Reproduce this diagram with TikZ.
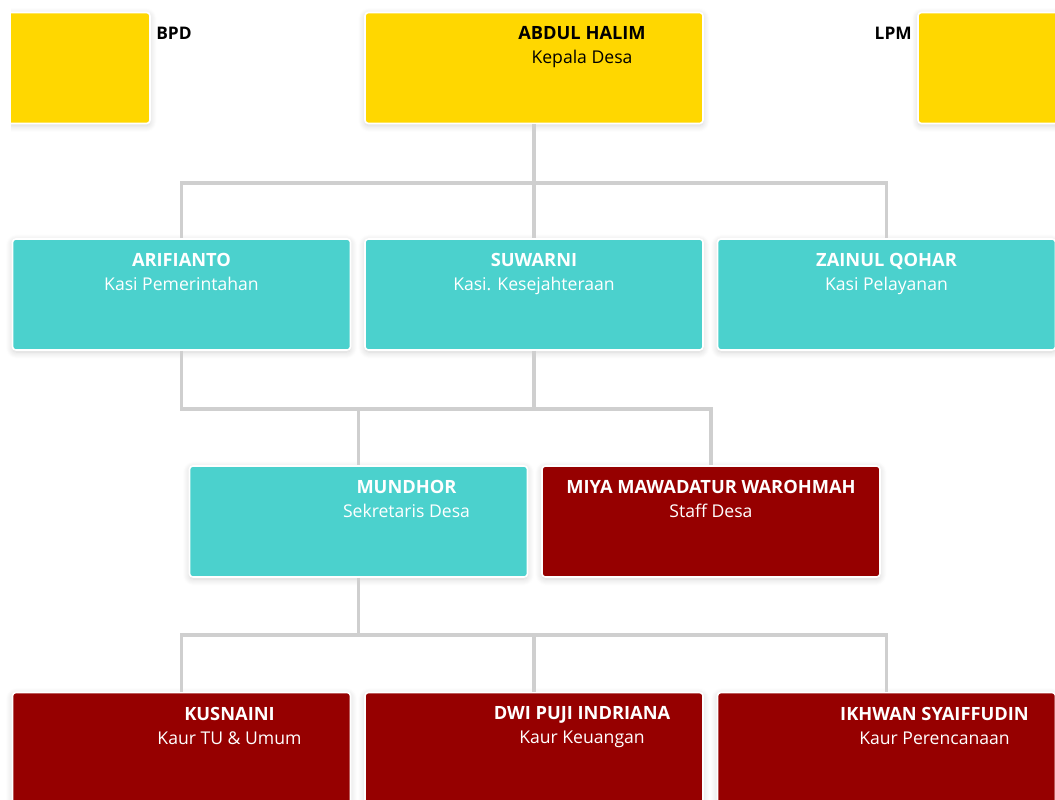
\documentclass[tikz,border=0pt]{standalone}
\usepackage{fontspec}
\setmainfont{Open Sans}
\usetikzlibrary{shadows.blur}
\definecolor{gold}{HTML}{FFD700}
\definecolor{teal}{HTML}{4BD1CD}
\definecolor{dred}{HTML}{960000}
\definecolor{conn}{HTML}{CFCFCF}
\newcommand{\nm}[1]{{\fontsize{13.7}{18}\selectfont\bfseries #1}}
\tikzset{
  box/.style={draw=white, line width=1.2pt, rounded corners=2.5pt, inner sep=0pt,
    blur shadow={shadow blur steps=8, shadow xshift=0pt, shadow yshift=-1.5pt, shadow opacity=18, shadow blur radius=5pt}},
  wide/.style={box, minimum width=253.5pt, minimum height=83.25pt},
  ybox/.style={wide, fill=gold},
  tbox/.style={wide, fill=teal},
  rbox/.style={wide, fill=dred},
  lbl/.style={font=\fontsize{13.2}{18}\selectfont, align=center, inner sep=0pt, anchor=north},
  side/.style={font=\fontsize{13}{15}\selectfont\bfseries, inner sep=0pt},
  link/.style={draw=conn, line width=2.3pt},
}
\begin{document}
\begin{tikzpicture}[x=0.75pt,y=-0.75pt]
\useasboundingbox (0,0) rectangle (1055,799);
% connectors
\coordinate (j1) at (534,183);
\coordinate (j2) at (358.5,409);
\coordinate (j3) at (358.5,635);
% row 1
\begin{scope}
\clip (11,0) rectangle (1055,799);
\node[ybox, minimum width=240pt] (bpd) at (-10,68) {};
\end{scope}
\node[ybox] (kades) at (534,68) {};
\node[ybox] (lpm) at (1087,68) {};
% row 2
\node[tbox] (kpem) at (181.5,294.5) {};
\node[tbox] (kkes) at (534,294.5) {};
\node[tbox] (kpel) at (886.5,294.5) {};
% row 3
\node[tbox] (sekdes) at (358.5,521.5) {};
\node[rbox] (staff) at (711,521.5) {};
% row 4
\node[rbox] (ktu) at (181.5,748) {};
\node[rbox] (kkeu) at (534,748) {};
\node[rbox] (kper) at (886.5,748) {};

% lines
\draw[link] (kades.south) -- (j1);
\draw[link] (kpem.north) |- (j1) -| (kpel.north);
\draw[link] (j1) -- (kkes.north);
\draw[link] (kpem.south) |- (j2);
\draw[link] (kkes.south) |- (j2) -| (staff.north);
\draw[link] (j2) -- (sekdes.north);
\draw[link] (sekdes.south) -- (j3);
\draw[link] (ktu.north) |- (j3) -| (kper.north);
\draw[link] (j3) -| (kkeu.north);

% side labels
\node[side, anchor=west] (tbpd) at (156,33.5) {BPD};
\node[side, anchor=east] (tlpm) at (912,33.5) {LPM};

% texts
\node[lbl, text=black] (t1) at (582,26) {\nm{ABDUL HALIM}\\Kepala Desa};
\node[lbl, text=white] (t2) at (181.5,253) {\nm{ARIFIANTO}\\Kasi Pemerintahan};
\node[lbl, text=white] (t3) at (534,253) {\nm{SUWARNI}\\Kasi. Kesejahteraan};
\node[lbl, text=white] (t4) at (886.5,253) {\nm{ZAINUL QOHAR}\\Kasi Pelayanan};
\node[lbl, text=white] (t5) at (406.5,480) {\nm{MUNDHOR}\\Sekretaris Desa};
\node[lbl, text=white] (t6) at (711,480) {\nm{MIYA MAWADATUR WAROHMAH}\\Staff Desa};
\node[lbl, text=white] (t7) at (229.5,706.5) {\nm{KUSNAINI}\\Kaur TU \& Umum};
\node[lbl, text=white] (t8) at (582,706.5) {\nm{DWI PUJI INDRIANA}\\Kaur Keuangan};
\node[lbl, text=white] (t9) at (934.5,706.5) {\nm{IKHWAN SYAIFFUDIN}\\Kaur Perencanaan};
\end{tikzpicture}
\end{document}
